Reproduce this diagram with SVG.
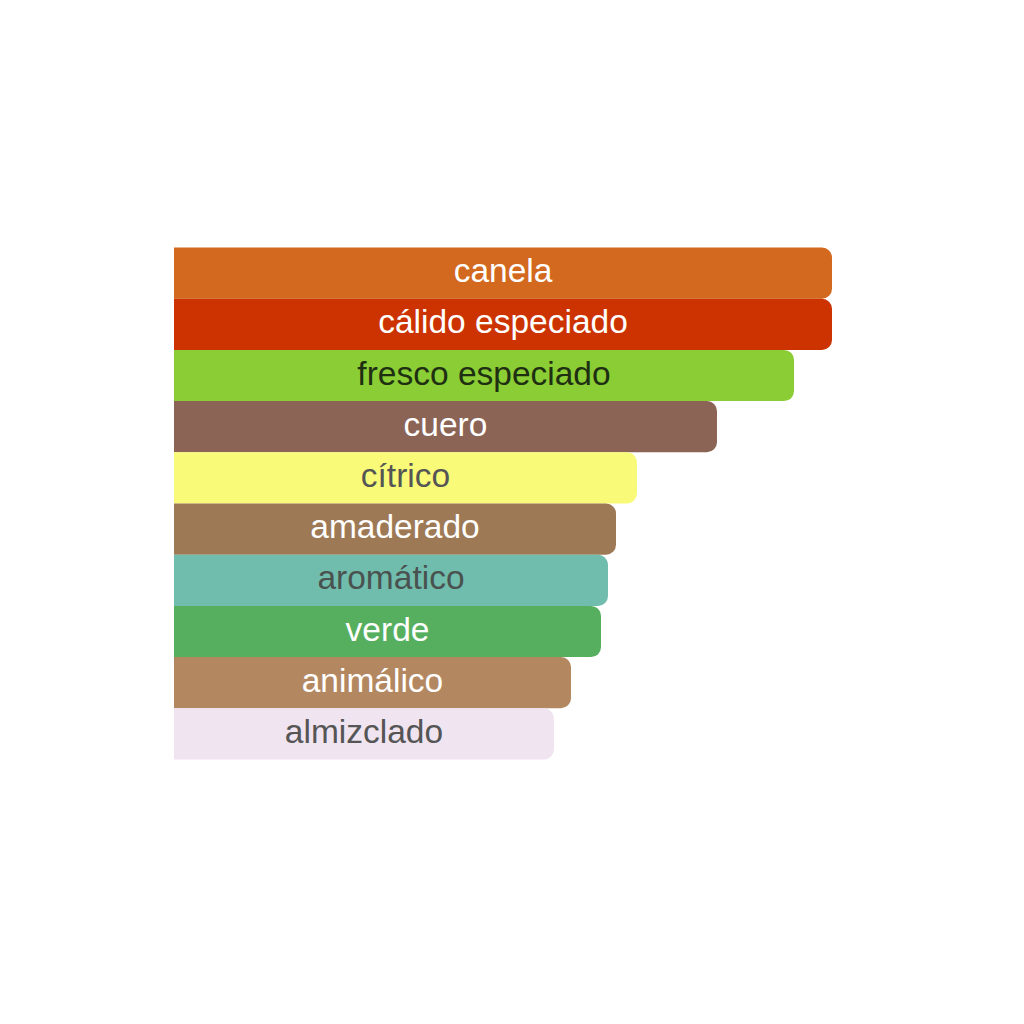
<svg xmlns="http://www.w3.org/2000/svg" width="1024" height="1024" viewBox="0 0 1024 1024">
  <style>
    .lbl { font-family: "Liberation Sans", Arial, sans-serif; font-size: 33.5px; text-anchor: middle; }
    .w { fill: #ffffff; }
  </style>
  <rect x="0" y="0" width="1024" height="1024" fill="#ffffff"/>
  <g id="bar-canela">
    <path d="M174,247.5 H822 A10,10 0 0 1 832,257.5 V288.7 A10,10 0 0 1 822,298.7 H174 Z" fill="#D2691E"/>
    <text class="lbl w" x="503" y="282.1">canela</text>
  </g>
  <g id="bar-calido-especiado">
    <path d="M174,298.7 H822 A10,10 0 0 1 832,308.7 V339.9 A10,10 0 0 1 822,349.9 H174 Z" fill="#CC3300"/>
    <text class="lbl w" x="503" y="333.3">cálido especiado</text>
  </g>
  <g id="bar-fresco-especiado">
    <path d="M174,349.9 H784 A10,10 0 0 1 794,359.9 V391.1 A10,10 0 0 1 784,401.1 H174 Z" fill="#8ACD34"/>
    <text class="lbl" x="484" y="384.5" fill="#1F2F12">fresco especiado</text>
  </g>
  <g id="bar-cuero">
    <path d="M174,401.1 H707 A10,10 0 0 1 717,411.1 V442.3 A10,10 0 0 1 707,452.3 H174 Z" fill="#8B6456"/>
    <text class="lbl w" x="445.5" y="435.7">cuero</text>
  </g>
  <g id="bar-citrico">
    <path d="M174,452.3 H627 A10,10 0 0 1 637,462.3 V493.5 A10,10 0 0 1 627,503.5 H174 Z" fill="#F9FA78"/>
    <text class="lbl" x="405.5" y="486.9" fill="#555555">cítrico</text>
  </g>
  <g id="bar-amaderado">
    <path d="M174,503.5 H606 A10,10 0 0 1 616,513.5 V544.7 A10,10 0 0 1 606,554.7 H174 Z" fill="#9E7955"/>
    <text class="lbl w" x="395" y="538.1">amaderado</text>
  </g>
  <g id="bar-aromatico">
    <path d="M174,554.7 H598 A10,10 0 0 1 608,564.7 V595.9 A10,10 0 0 1 598,605.9 H174 Z" fill="#71BDAD"/>
    <text class="lbl" x="391" y="589.3" fill="#4A5250">aromático</text>
  </g>
  <g id="bar-verde">
    <path d="M174,605.9 H591 A10,10 0 0 1 601,615.9 V647.1 A10,10 0 0 1 591,657.1 H174 Z" fill="#56AF5F"/>
    <text class="lbl w" x="387.5" y="640.5">verde</text>
  </g>
  <g id="bar-animalico">
    <path d="M174,657.1 H561 A10,10 0 0 1 571,667.1 V698.3 A10,10 0 0 1 561,708.3 H174 Z" fill="#B38861"/>
    <text class="lbl w" x="372.5" y="691.7">animálico</text>
  </g>
  <g id="bar-almizclado">
    <path d="M174,708.3 H544 A10,10 0 0 1 554,718.3 V749.5 A10,10 0 0 1 544,759.5 H174 Z" fill="#EFE4F0"/>
    <text class="lbl" x="364" y="742.9" fill="#555555">almizclado</text>
  </g>
  <g id="connectors"/>
</svg>
